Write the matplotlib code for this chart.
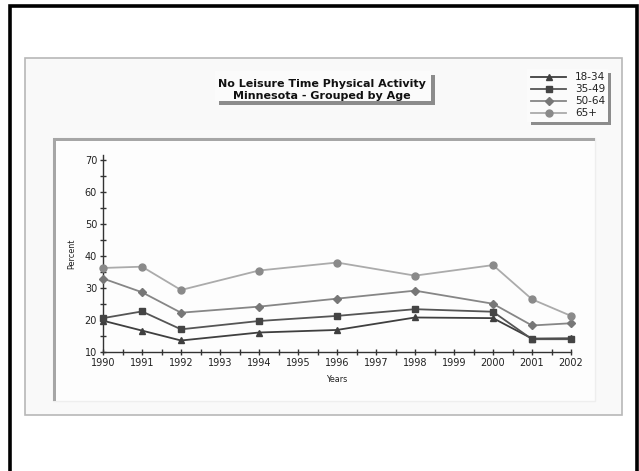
import matplotlib
matplotlib.use("Agg")
import matplotlib.pyplot as plt
from matplotlib.patches import Rectangle
from matplotlib.lines import Line2D
from matplotlib.ticker import MultipleLocator

# survey years and percent reporting no leisure time physical activity
years = [1990, 1991, 1992, 1994, 1996, 1998, 2000, 2001, 2002]
age_18_34 = [19.8, 16.7, 13.6, 16.1, 16.9, 20.8, 20.6, 14.2, 14.3]
age_35_49 = [20.6, 22.7, 17.1, 19.7, 21.3, 23.4, 22.6, 14.0, 14.0]
age_50_64 = [33.0, 28.7, 22.3, 24.2, 26.7, 29.2, 25.1, 18.3, 19.0]
age_65_up = [36.3, 36.7, 29.4, 35.5, 38.0, 33.9, 37.2, 26.5, 21.3]
labels = ["18-34", "35-49", "50-64", "65+"]

W, H = 639, 471
fig = plt.figure(figsize=(W / 100, H / 100), dpi=100)
fig.patch.set_facecolor("white")


def px_rect(x0, y0, x1, y1, **kw):
    # rectangle given in pixel coords measured from the top-left corner
    r = Rectangle((x0 / W, 1 - y1 / H), (x1 - x0) / W, (y1 - y0) / H,
                  transform=fig.transFigure, zorder=-10, **kw)
    fig.patches.append(r)
    return r


# page frame and panels
px_rect(10, 6, 637, 490, fill=False, edgecolor="black", linewidth=2.6)
px_rect(25, 58, 622, 415, facecolor="#f9f9f9", edgecolor="#b8b8b8", linewidth=1.2)
px_rect(53, 138, 595, 401, facecolor="#fdfdfd", edgecolor="#eeeeee", linewidth=1)
px_rect(53, 138, 595, 141, facecolor="#a6a6a6", edgecolor="none")
px_rect(53, 138, 56, 401, facecolor="#a6a6a6", edgecolor="none")

# title box with drop shadow
px_rect(219, 75, 435, 105, facecolor="#8c8c8c", edgecolor="none")
px_rect(215, 71, 431, 101, facecolor="#fbfbfb", edgecolor="none")
fig.text(322 / W, 1 - 84 / H, "No Leisure Time Physical Activity",
         ha="center", va="center", fontsize=8.0, fontweight="bold", color="#111111")
fig.text(322 / W, 1 - 96 / H, "Minnesota - Grouped by Age",
         ha="center", va="center", fontsize=8.0, fontweight="bold", color="#111111")

# legend box with drop shadow
px_rect(531, 73, 611, 125, facecolor="#8c8c8c", edgecolor="none")
px_rect(527, 69, 608, 122, facecolor="#fbfbfb", edgecolor="none")

ax = fig.add_axes([103 / W, 119 / H, 468 / W, 196.5 / H])
ax.set_facecolor("none")

styles = [
    (age_18_34, "^", "#3f3f3f", "#3f3f3f"),
    (age_35_49, "s", "#555555", "#444444"),
    (age_50_64, "D", "#868686", "#777777"),
    (age_65_up, "o", "#ababab", "#8a8a8a"),
]
for vals, mk, lc, mc in styles:
    ax.plot(years, vals, color=lc, linewidth=1.3, marker=mk,
            markersize=5 if mk != "D" else 4.3,
            markerfacecolor=mc, markeredgecolor=mc, zorder=3, clip_on=False)

ax.set_xlim(1990, 2002)
ax.xaxis.set_major_locator(MultipleLocator(1))
ax.xaxis.set_minor_locator(MultipleLocator(0.5))
ax.set_yticks(range(10, 71, 10))
ax.yaxis.set_minor_locator(MultipleLocator(5))
ax.set_ylim(10, 71.5)

for side in ["top", "right"]:
    ax.spines[side].set_visible(False)
for side in ["left", "bottom"]:
    ax.spines[side].set_color("#333333")
    ax.spines[side].set_linewidth(1)

ax.tick_params(which="both", direction="inout", length=4.5, width=1,
               color="#333333", labelsize=7, labelcolor="#222222", pad=2)
ax.set_xlabel("Years", fontsize=5.8, color="#222222", labelpad=5)
ax.set_ylabel("Percent", fontsize=5.8, color="#222222", labelpad=6)

# legend entries
for i, (lab, (vals, mk, lc, mc)) in enumerate(zip(labels, styles)):
    y = 1 - (77 + i * 12) / H
    fig.lines.append(Line2D([531 / W, 566 / W], [y, y], transform=fig.transFigure,
                            color=lc, linewidth=1.3))
    fig.lines.append(Line2D([548.5 / W], [y], transform=fig.transFigure,
                            marker=mk, markersize=5 if mk != "D" else 4.3,
                            markerfacecolor=mc, markeredgecolor=mc, linestyle="none"))
    fig.text(575 / W, y, lab, ha="left", va="center", fontsize=7.5, color="#222222")

fig.savefig("out.png", dpi=100)
